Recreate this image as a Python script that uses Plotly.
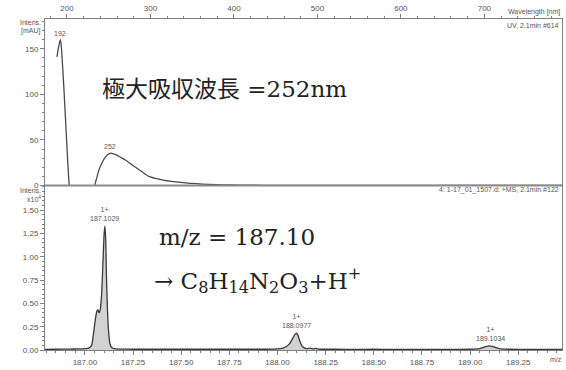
import plotly.graph_objects as go

# ---- data ----
uv_wavelength = [188, 190, 192, 193, 195, 197, 199, 201, 203, 206, 212, 220, 228, 232, 235, 238, 242, 246, 249, 252,
                 255, 259, 264, 270, 276, 283, 290, 298, 306, 315, 325, 336, 348, 362, 378, 396, 420, 450, 500, 600, 700, 793]
uv_intensity = [141, 152, 160, 155, 128, 95, 60, 25, -2, -15, -25, -25, -15, -4, 6, 16, 25, 31, 34, 35.5,
                35, 33.5, 31, 28, 24, 19.5, 15, 10, 7.8, 6.0, 4.6, 3.4, 2.4, 1.6, 1.0, 0.6, 0.3, 0.15, 0.05, 0, 0, 0]

ms_mz = [186.79, 186.85, 186.92, 186.97, 187.00, 187.02, 187.035, 187.045, 187.055, 187.063, 187.068, 187.074,
         187.08, 187.087, 187.094, 187.1, 187.104, 187.108, 187.112, 187.117, 187.123, 187.13, 187.14, 187.16,
         187.2, 187.25, 187.3, 187.4, 187.5, 187.6, 187.7, 187.8, 187.9, 187.98, 188.03, 188.06, 188.08, 188.09,
         188.098, 188.106, 188.115, 188.13, 188.15, 188.17, 188.185, 188.2, 188.215, 188.23, 188.3, 188.4, 188.5,
         188.6, 188.7, 188.8, 188.9, 189.0, 189.05, 189.08, 189.1, 189.12, 189.15, 189.2, 189.3, 189.4, 189.48]
ms_intensity = [0.006, 0.008, 0.01, 0.012, 0.015, 0.02, 0.05, 0.18, 0.34, 0.42, 0.43, 0.40,
                0.44, 0.6, 0.95, 1.25, 1.33, 1.2, 0.8, 0.45, 0.2, 0.07, 0.025, 0.012,
                0.01, 0.008, 0.008, 0.008, 0.008, 0.008, 0.008, 0.008, 0.008, 0.01, 0.02, 0.06, 0.13, 0.165,
                0.18, 0.16, 0.1, 0.035, 0.015, 0.02, 0.012, 0.018, 0.01, 0.008, 0.008, 0.006, 0.008,
                0.006, 0.006, 0.006, 0.006, 0.008, 0.015, 0.035, 0.045, 0.035, 0.015, 0.008, 0.006, 0.006, 0.006]

uv_peaks = [192, 252]
uv_peak_heights = [160, 35.5]
ms_peaks = [187.1029, 188.0977, 189.1034]
ms_peak_heights = [1.33, 0.18, 0.045]
ms_charge = ["1+", "1+", "1+"]
uv_yticks = [0, 50, 100, 150]
ms_yticks = [0.0, 0.25, 0.5, 0.75, 1.0, 1.25, 1.5]

W, H = 566, 370
ML, MR, MT, MB = 45, 3, 19, 17
PH = H - MT - MB
PW = W - ML - MR
split = (353 - 187) / PH

tickfont = dict(family="Liberation Sans, Arial, sans-serif", size=8, color="#555555")
axcol = "#7f7f7f"
bigfont = dict(family="'DejaVu Serif', 'Noto Sans CJK JP', serif", size=23, color="#222222")
smallfont = dict(family="Liberation Sans, Arial, sans-serif", size=7, color="#555555")

fig = go.Figure()
fig.add_trace(go.Scatter(x=uv_wavelength, y=uv_intensity, mode="lines", xaxis="x", yaxis="y",
                         line=dict(color="#4a4a4a", width=1.3, shape="spline", smoothing=0.5),
                         hoverinfo="skip", showlegend=False))
fig.add_trace(go.Scatter(x=ms_mz, y=ms_intensity, mode="lines", xaxis="x2", yaxis="y2",
                         line=dict(color="#3a3a3a", width=1.3, shape="spline", smoothing=0.5),
                         fill="tozeroy", fillcolor="#d2d2d2",
                         hoverinfo="skip", showlegend=False))

common = dict(showgrid=False, zeroline=False, showline=True, linecolor=axcol, linewidth=1,
              ticks="outside", ticklen=4, tickcolor=axcol, tickfont=tickfont)

fig.update_layout(
    width=W, height=H, margin=dict(l=ML, r=MR, t=MT, b=MB),
    paper_bgcolor="white", plot_bgcolor="white",
    xaxis=dict(domain=[0, 1], anchor="y", side="top", range=[173.7, 793], dtick=100, tick0=0,
               minor=dict(dtick=20, ticklen=2, ticks="outside", tickcolor=axcol), **common),
    yaxis=dict(domain=[split, 1], anchor="x", range=[0, 182.6], tickvals=uv_yticks, mirror=True,
               minor=dict(dtick=10, ticklen=2, ticks="outside", tickcolor=axcol), **common),
    xaxis2=dict(domain=[0, 1], anchor="y2", side="bottom", range=[186.793, 189.477], dtick=0.25, tick0=187,
                tickformat=".2f",
                minor=dict(dtick=0.05, ticklen=2, ticks="outside", tickcolor=axcol), **common),
    yaxis2=dict(domain=[0, split], anchor="x2", range=[0, 1.766], tickvals=ms_yticks, tickformat=".2f",
                mirror=True,
                minor=dict(dtick=0.05, ticklen=2, ticks="outside", tickcolor=axcol), **common),
)

fig.add_shape(type="line", xref="paper", yref="paper", x0=0, x1=1, y0=split, y1=split,
              line=dict(color="#8a8a8a", width=2))


def py(ypix):
    return (H - MB - ypix) / PH


def px(xpix):
    return (xpix - ML) / PW


ann = []
ann.append(dict(text="Intens.", xref="paper", yref="paper", x=-0.004, y=py(23), xanchor="right",
                yanchor="middle", showarrow=False, font=smallfont))
ann.append(dict(text="[mAU]", xref="paper", yref="paper", x=-0.004, y=py(31), xanchor="right",
                yanchor="middle", showarrow=False, font=smallfont))
ann.append(dict(text="Intens.", xref="paper", yref="paper", x=-0.004, y=py(192), xanchor="right",
                yanchor="middle", showarrow=False, font=smallfont))
ann.append(dict(text="x10<sup>4</sup>", xref="paper", yref="paper", x=-0.004, y=py(201),
                xanchor="right", yanchor="middle", showarrow=False, font=smallfont))
ann.append(dict(text="Wavelength [nm]", xref="paper", yref="paper", x=1, y=py(12), xanchor="right",
                yanchor="middle", showarrow=False, font=smallfont))
ann.append(dict(text="UV, 2.1min #614", xref="paper", yref="paper", x=0.998, y=py(26), xanchor="right",
                yanchor="middle", showarrow=False, font=smallfont))
ann.append(dict(text="4: 1-17_01_1507.d: +MS, 2.1min #122", xref="paper", yref="paper", x=0.998,
                y=py(192), xanchor="right", yanchor="middle", showarrow=False, font=smallfont))
ann.append(dict(text="m/z", xref="paper", yref="paper", x=px(557), y=py(363), xanchor="center",
                yanchor="middle", showarrow=False, font=smallfont))

for wl, h in zip(uv_peaks, uv_peak_heights):
    ann.append(dict(text=str(wl), x=wl, y=h, xref="x", yref="y", yanchor="bottom", yshift=1,
                    showarrow=False, font=smallfont))
for mz, h, ch in zip(ms_peaks, ms_peak_heights, ms_charge):
    ann.append(dict(text=f"{ch}<br>{mz:.4f}", x=mz, y=h, xref="x2", yref="y2", yanchor="bottom", yshift=2,
                    showarrow=False, font=smallfont))

ann.append(dict(text="極大吸収波長 =252nm", xref="paper", yref="paper", x=px(100),
                y=py(90), xanchor="left", yanchor="middle", showarrow=False, font=bigfont))
ann.append(dict(text="m/z = 187.10", xref="paper", yref="paper", x=px(157),
                y=py(239), xanchor="left", yanchor="middle", showarrow=False, font=bigfont))
ann.append(dict(text="→ C<sub>8</sub>H<sub>14</sub>N<sub>2</sub>O<sub>3</sub>+H<sup>+</sup>", xref="paper",
                yref="paper", x=px(152), y=py(283), xanchor="left",
                yanchor="middle", showarrow=False, font=bigfont))

fig.update_layout(annotations=ann)
fig.write_html("out.html", config={"displayModeBar": False},
               post_script="document.body.style.margin='0';")
